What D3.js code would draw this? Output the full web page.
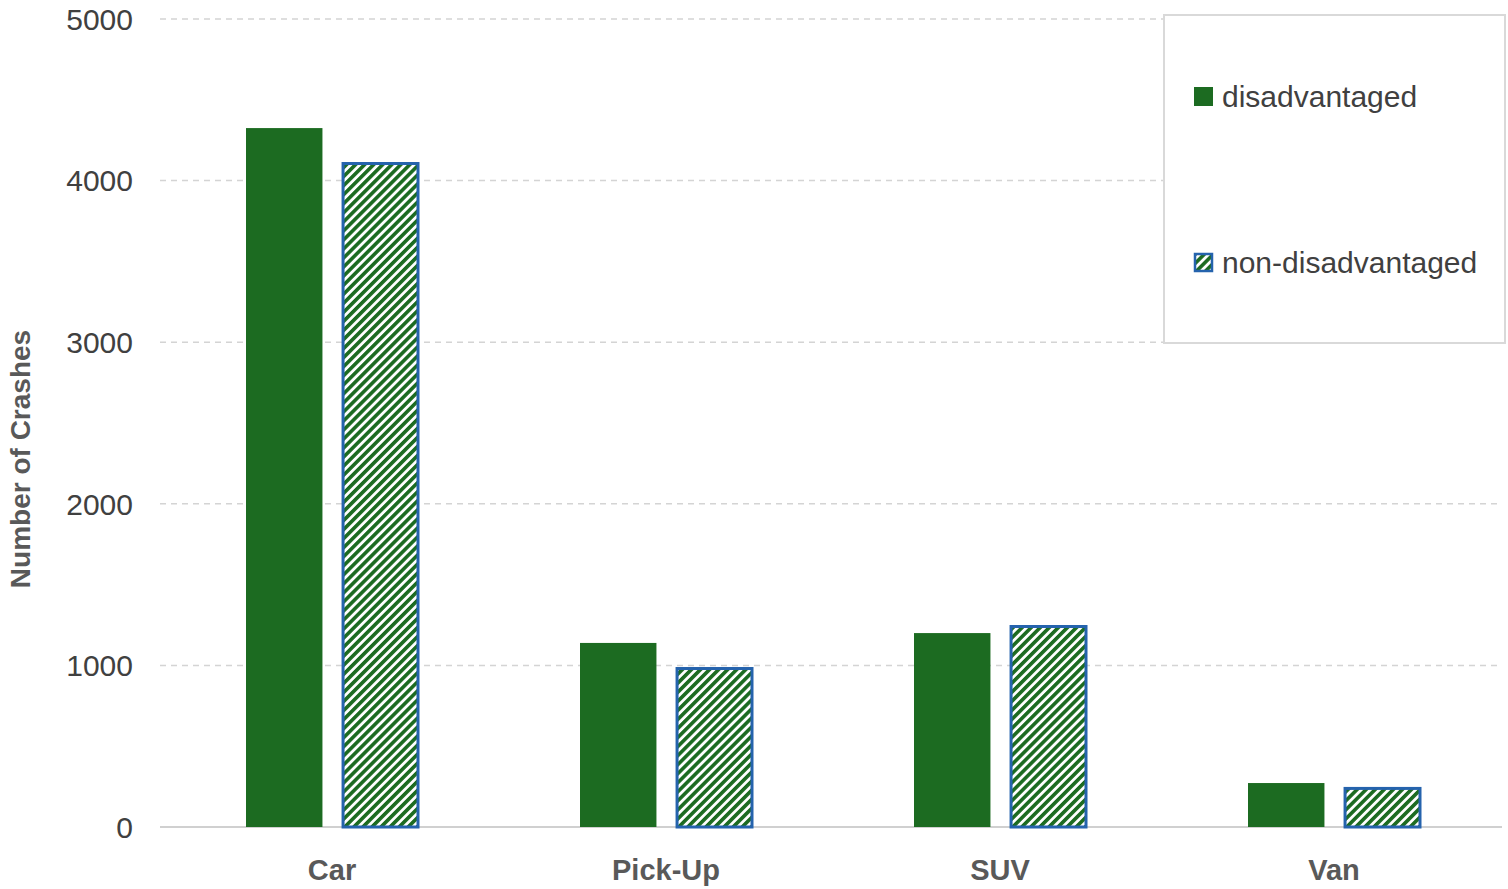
<!DOCTYPE html>
<html>
<head>
<meta charset="utf-8">
<script src="https://cdn.jsdelivr.net/npm/d3@7"></script>
<style>
  html, body { margin: 0; padding: 0; background: #ffffff; }
  svg { display: block; }
</style>
</head>
<body>
<svg id="chart" width="1508" height="889"></svg>
<script>
// Crash counts by vehicle type, split by community status
const categories = ["Car", "Pick-Up", "SUV", "Van"];
const seriesNames = ["disadvantaged", "non-disadvantaged"];
const disadvantaged = [4325, 1139, 1200, 272];
const nonDisadvantaged = [4115, 990, 1250, 248];
const yTicks = [0, 1000, 2000, 3000, 4000, 5000];

const W = 1508, H = 889;
const margin = { left: 165, right: 7, top: 19, bottom: 62 };
const green = "#1c6b21";
const blue = "#2563ad";

const svg = d3.select("#chart");

// diagonal hatch used for the non-disadvantaged series
const defs = svg.append("defs");
const pat = defs.append("pattern")
  .attr("id", "hatch")
  .attr("patternUnits", "userSpaceOnUse")
  .attr("width", 6.4).attr("height", 6.4)
  .attr("patternTransform", "rotate(45)");
pat.append("rect").attr("width", 6.4).attr("height", 6.4).attr("fill", "#ffffff");
pat.append("rect").attr("x", 0).attr("y", 0).attr("width", 3.6).attr("height", 6.4).attr("fill", green);

const x0 = d3.scaleBand()
  .domain(categories)
  .range([margin.left, W - margin.right])
  .paddingInner(0).paddingOuter(0);

const groupW = 172;
const x1 = d3.scaleBand()
  .domain(seriesNames)
  .range([0, groupW])
  .paddingInner(0.2).paddingOuter(0);

const y = d3.scaleLinear()
  .domain([0, 5000])
  .range([H - margin.bottom, margin.top]);

// gridlines
svg.append("g")
  .selectAll("line")
  .data(yTicks.filter(t => t > 0))
  .join("line")
  .attr("x1", 160).attr("x2", 1502)
  .attr("y1", d => y(d)).attr("y2", d => y(d))
  .attr("stroke", "#d4d4d4")
  .attr("stroke-width", 1.5)
  .attr("stroke-dasharray", "6,5");

// baseline
svg.append("line")
  .attr("x1", 160).attr("x2", 1502)
  .attr("y1", y(0)).attr("y2", y(0))
  .attr("stroke", "#d0d0d0").attr("stroke-width", 2);

// y tick labels
svg.append("g")
  .selectAll("text")
  .data(yTicks)
  .join("text")
  .attr("x", 133)
  .attr("y", d => y(d))
  .attr("dy", "0.36em")
  .attr("text-anchor", "end")
  .attr("font-family", "Liberation Sans, Arial, sans-serif")
  .attr("font-size", 30)
  .attr("fill", "#404040")
  .text(d => d);

// y axis title
svg.append("text")
  .attr("transform", `translate(30, ${y(2500) + 36}) rotate(-90)`)
  .attr("text-anchor", "middle")
  .attr("font-family", "Liberation Sans, Arial, sans-serif")
  .attr("font-weight", "bold")
  .attr("font-size", 28)
  .attr("fill", "#595959")
  .text("Number of Crashes");

// bars
const rows = categories.map((c, i) => ({
  cat: c,
  vals: [
    { key: seriesNames[0], v: disadvantaged[i] },
    { key: seriesNames[1], v: nonDisadvantaged[i] }
  ]
}));

const groups = svg.append("g")
  .selectAll("g")
  .data(rows)
  .join("g")
  .attr("transform", d => `translate(${x0(d.cat) + (x0.bandwidth() - groupW) / 2}, 0)`);

groups.selectAll("rect")
  .data(d => d.vals)
  .join("rect")
  .attr("x", d => x1(d.key) + (d.key === seriesNames[1] ? 1.5 : 0))
  .attr("width", d => x1.bandwidth() - (d.key === seriesNames[1] ? 1.5 : 0))
  .attr("y", d => y(d.v) + (d.key === seriesNames[1] ? 1.5 : 0))
  .attr("height", d => y(0) - y(d.v) - (d.key === seriesNames[1] ? 1.5 : 0))
  .attr("fill", d => d.key === seriesNames[0] ? green : "url(#hatch)")
  .attr("stroke", d => d.key === seriesNames[0] ? "none" : blue)
  .attr("stroke-width", 3);

// category labels
svg.append("g")
  .selectAll("text")
  .data(categories)
  .join("text")
  .attr("x", d => x0(d) + x0.bandwidth() / 2)
  .attr("y", 870)
  .attr("dy", "0.35em")
  .attr("text-anchor", "middle")
  .attr("font-family", "Liberation Sans, Arial, sans-serif")
  .attr("font-weight", "bold")
  .attr("font-size", 29)
  .attr("fill", "#595959")
  .text(d => d);

// legend
const lg = svg.append("g");
lg.append("rect")
  .attr("x", 1164).attr("y", 15)
  .attr("width", 341).attr("height", 328)
  .attr("fill", "#ffffff")
  .attr("stroke", "#d9d9d9")
  .attr("stroke-width", 2);

const legendItems = [
  { name: seriesNames[0], y: 96 },
  { name: seriesNames[1], y: 262 }
];
const li = lg.selectAll("g.item")
  .data(legendItems)
  .join("g")
  .attr("class", "item")
  .attr("transform", d => `translate(1194, ${d.y})`);

li.append("rect")
  .attr("x", d => d.name === seriesNames[1] ? 1 : 0)
  .attr("y", d => d.name === seriesNames[1] ? -8 : -9)
  .attr("width", d => d.name === seriesNames[1] ? 17 : 19)
  .attr("height", d => d.name === seriesNames[1] ? 17 : 19)
  .attr("fill", d => d.name === seriesNames[0] ? green : "url(#hatch)")
  .attr("stroke", d => d.name === seriesNames[0] ? "none" : blue)
  .attr("stroke-width", 2.5);

li.append("text")
  .attr("x", 28)
  .attr("y", 0)
  .attr("dy", "0.35em")
  .attr("font-family", "Liberation Sans, Arial, sans-serif")
  .attr("font-size", 30)
  .attr("fill", "#404040")
  .text(d => d.name);
</script>
</body>
</html>
